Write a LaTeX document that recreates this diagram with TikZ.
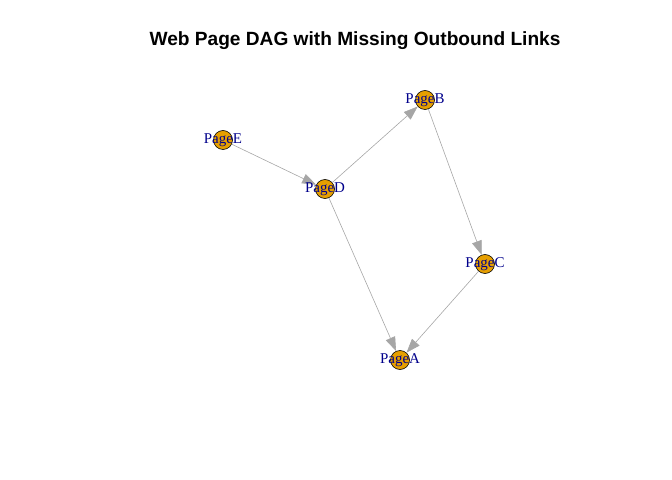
\documentclass[tikz,border=0pt]{standalone}
\usepackage{fontspec}
\setmainfont{Liberation Serif}
\newfontfamily\titlefont{Liberation Sans}
\usetikzlibrary{arrows.meta}
\definecolor{vfill}{HTML}{E69F00}
\definecolor{edgegray}{HTML}{A6A6A6}
\definecolor{lblue}{HTML}{00008B}
\tikzset{
  page/.style={circle,draw=black,fill=vfill,minimum size=19bp,inner sep=0pt,line width=0.6pt},
  link/.style={draw=edgegray,line width=0.6pt,-{Triangle[length=14bp,width=10bp]}},
  lbl/.style={text=lblue,font=\fontsize{15}{15}\selectfont,inner sep=0pt}
}
\begin{document}
\begin{tikzpicture}[x=1bp,y=-1bp]
\useasboundingbox (0,0) rectangle (672,480);

\node[font=\titlefont\bfseries\fontsize{19.2}{22}\selectfont] (title) at (355,41) {Web Page DAG with Missing Outbound Links};

\node[page] (pE) at (223,140) {};
\node[page] (pD) at (325,189) {};
\node[page] (pB) at (425,100) {};
\node[page] (pC) at (485,264) {};
\node[page] (pA) at (400,360) {};

\draw[link] (pE) -- (pD);
\draw[link] (pD) -- (pB);
\draw[link] (pD) -- (pA);
\draw[link] (pB) -- (pC);
\draw[link] (pC) -- (pA);

%labels on top of the circles
\node[lbl] (lE) at (pE) {PageE};
\node[lbl] (lD) at (pD) {PageD};
\node[lbl] (lB) at (pB) {PageB};
\node[lbl] (lC) at (pC) {PageC};
\node[lbl] (lA) at (pA) {PageA};
\end{tikzpicture}
\end{document}
